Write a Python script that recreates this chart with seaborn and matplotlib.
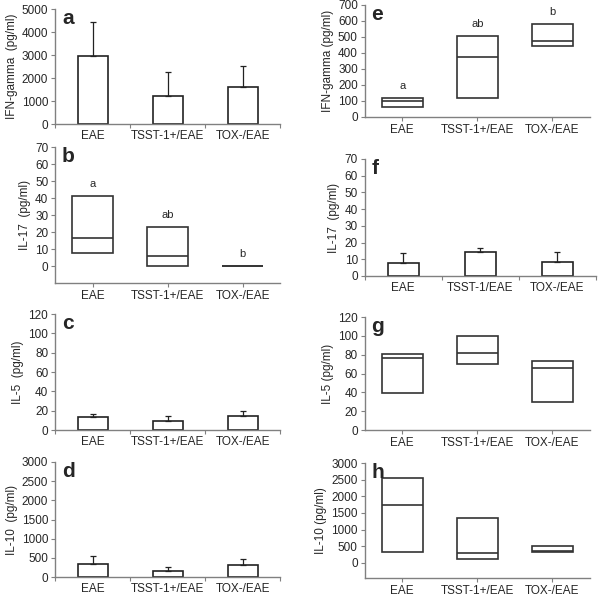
import numpy as np
import pandas as pd
import matplotlib
matplotlib.use("Agg")
import matplotlib.pyplot as plt
from matplotlib.ticker import FixedLocator
import seaborn as sns

# ---------------- data ----------------
groups = ["EAE", "TSST-1+/EAE", "TOX-/EAE"]
groups_f = ["EAE", "TSST-1/EAE", "TOX-/EAE"]

# left column: mean bars with upward SD
ifn_mean = [2950, 1220, 1590]
ifn_err = [1500, 1040, 920]
il5_mean = [13.0, 9.7, 14.2]
il5_err = [3.5, 4.5, 5.5]
il10_mean = [350, 155, 305]
il10_err = [190, 105, 175]

# left column panel b: box (q1, median, q3)
il17_q1 = [7.5, 0.0, 0.0]
il17_med = [16.7, 6.1, 0.0]
il17_q3 = [41.3, 23.0, 0.0]
il17_letters = ["a", "ab", "b"]

# right column
e_q1 = [62, 118, 445]
e_med = [98, 372, 472]
e_q3 = [118, 507, 580]
e_letters = ["a", "ab", "b"]

f_mean = [7.8, 14.2, 8.2]
f_err = [6.0, 2.5, 6.0]

g_q1 = [39.5, 70.6, 29.6]
g_med = [77, 81.5, 66.4]
g_q3 = [80.5, 99.5, 73.4]

h_q1 = [327, 109, 327]
h_med = [1752, 297, 345]
h_q3 = [2545, 1347, 495]

# ---------------- style ----------------
sns.set_theme(style="white")
plt.rcParams["font.family"] = ["Liberation Sans", "DejaVu Sans"]
plt.rcParams["axes.edgecolor"] = "#808080"
plt.rcParams["axes.linewidth"] = 1.0

fig = plt.figure(figsize=(6, 6), dpi=100)

FS = 8.5
EDGE = "#222222"
BOXEDGE = "#333333"


def style_axes(ax, ylabel, letter, ylim, yticks, boundary_ticks):
    sns.despine(ax=ax)
    ax.set_ylim(*ylim)
    ax.set_xlim(-0.5, 2.5)
    ax.set_yticks(yticks)
    ax.set_yticklabels([str(t) for t in yticks])
    ax.set_ylabel(ylabel, fontsize=FS, labelpad=3)
    ax.set_xlabel("")
    ax.tick_params(axis="y", which="major", direction="out", length=3,
                   width=0.8, color="#808080", labelsize=FS, pad=2,
                   left=True)
    if boundary_ticks:
        ax.tick_params(axis="x", which="major", length=0, labelsize=FS,
                       pad=4)
        ax.xaxis.set_minor_locator(FixedLocator([-0.5, 0.5, 1.5, 2.5]))
        ax.tick_params(axis="x", which="minor", direction="out", length=3,
                       width=0.8, color="#808080", bottom=True)
    else:
        ax.tick_params(axis="x", which="major", direction="out", length=3,
                       width=0.8, color="#808080", labelsize=FS, pad=2,
                       bottom=True)
    ax.text(0.03, 1.0, letter, transform=ax.transAxes, fontsize=15,
            fontweight="bold", ha="left", va="top")


def bar_panel(rect, cats, mean, err, ylabel, letter, ylim, yticks):
    ax = fig.add_axes(rect)
    df = pd.DataFrame({"group": cats, "value": mean})
    sns.barplot(data=df, x="group", y="value", order=cats, ax=ax,
                color="white", edgecolor=EDGE, linewidth=1.2, width=0.4,
                errorbar=None)
    ax.errorbar(np.arange(len(cats)), mean,
                yerr=[np.zeros(len(cats)), err], fmt="none",
                ecolor=EDGE, elinewidth=0.9, capsize=2.5, capthick=0.9)
    style_axes(ax, ylabel, letter, ylim, yticks, True)
    return ax


def box_panel(rect, cats, q1, med, q3, ylabel, letter, ylim, yticks,
              letters=None, width=0.55):
    ax = fig.add_axes(rect)
    heights = [b - a for a, b in zip(q1, q3)]
    df = pd.DataFrame({"group": cats, "value": heights})
    sns.barplot(data=df, x="group", y="value", order=cats, ax=ax,
                color="white", edgecolor=BOXEDGE, linewidth=1.2,
                width=width, errorbar=None, bottom=q1)
    xs = np.arange(len(cats))
    ax.hlines(med, xs - width / 2, xs + width / 2, colors=BOXEDGE,
              linewidth=1.2)
    if letters is not None:
        for x, top, lab in zip(xs, q3, letters):
            ax.annotate(lab, (x, top), xytext=(0, 5),
                        textcoords="offset points", ha="center",
                        va="bottom", fontsize=8)
    style_axes(ax, ylabel, letter, ylim, yticks, False)
    return ax


L, W = 0.092, 0.375
R = 0.608

bar_panel([L, 0.7933, W, 0.1917], groups, ifn_mean, ifn_err,
          "IFN-gamma  (pg/ml)", "a", (0, 5000), list(range(0, 5001, 1000)))
box_panel([L, 0.5283, W, 0.2267], groups, il17_q1, il17_med, il17_q3,
          "IL-17  (pg/ml)", "b", (-10, 70), list(range(0, 71, 10)),
          letters=il17_letters)
bar_panel([L, 0.2833, W, 0.1933], groups, il5_mean, il5_err,
          "IL-5  (pg/ml)", "c", (0, 120), list(range(0, 121, 20)))
bar_panel([L, 0.0383, W, 0.1917], groups, il10_mean, il10_err,
          "IL-10  (pg/ml)", "d", (0, 3000), list(range(0, 3001, 500)))

box_panel([R, 0.805, W, 0.1867], groups, e_q1, e_med, e_q3,
          "IFN-gamma (pg/ml)", "e", (0, 700), list(range(0, 701, 100)),
          letters=e_letters)
bar_panel([R, 0.54, 0.385, 0.195], groups_f, f_mean, f_err,
          "IL-17  (pg/ml)", "f", (0, 70), list(range(0, 71, 10)))
box_panel([R, 0.2833, W, 0.1883], groups, g_q1, g_med, g_q3,
          "IL-5 (pg/ml)", "g", (0, 120), list(range(0, 121, 20)))
box_panel([R, 0.037, W, 0.1913], groups, h_q1, h_med, h_q3,
          "IL-10 (pg/ml)", "h", (-450, 3000), list(range(0, 3001, 500)))

fig.savefig("out.png", dpi=100, facecolor="white")
